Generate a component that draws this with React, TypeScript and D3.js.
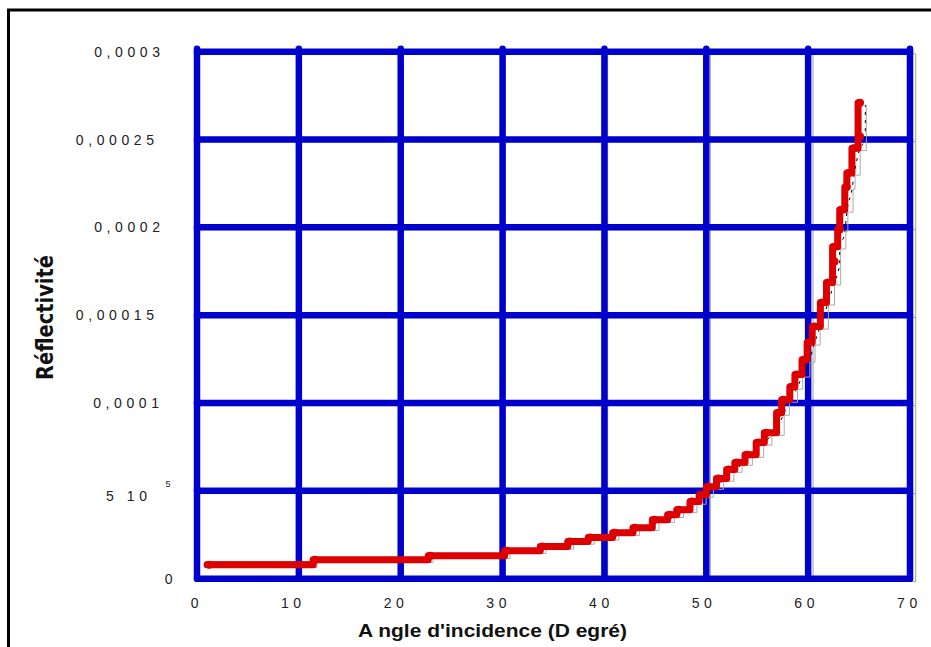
import React from "react";
import * as d3 from "d3";

// ---- data ----
const xTicks = [0, 10, 20, 30, 40, 50, 60, 70];
const yTicks = [0, 0.00005, 0.0001, 0.00015, 0.0002, 0.00025, 0.0003];
const yTickLabels = ["0", "5 10", "0,0001", "0,00015", "0,0002", "0,00025", "0,0003"];
const xTickLabels = ["0", "10", "20", "30", "40", "50", "60", "70"];

// step starts of the measured curve (angle in degrees, reflectivity)
const angles = [
  1.0, 11.4, 22.7, 30.2, 33.7, 36.4, 38.4, 40.8, 42.8, 44.7, 46.2, 47.1, 48.4,
  49.3, 50.0, 51.0, 52.0, 52.8, 53.8, 54.9, 55.7, 56.9, 57.4, 58.2, 58.7, 59.4,
  59.9, 60.4, 61.2, 61.8, 62.4, 62.4, 62.9, 63.1, 63.6, 63.8, 64.3, 64.9, 64.9,
];
const reflectivity = [
  8.0e-6, 10.8e-6, 13.1e-6, 15.9e-6, 18.4e-6, 21.2e-6, 23.5e-6, 26.2e-6, 29.0e-6,
  33.6e-6, 36.4e-6, 39.3e-6, 43.9e-6, 47.8e-6, 52.4e-6, 57.0e-6, 62.1e-6, 66.1e-6,
  70.6e-6, 77.5e-6, 83.1e-6, 94.5e-6, 101.9e-6, 109.3e-6, 116.2e-6, 124.7e-6,
  134.4e-6, 143.5e-6, 157.2e-6, 168.6e-6, 180.5e-6, 189.0e-6, 198.8e-6, 210.0e-6,
  223.0e-6, 231.0e-6, 245.0e-6, 251.7e-6, 271.0e-6,
];
const firstRunEnd = 11.4; // flat segment end for dotted texture

const yTitle = "Réflectivité";
const xTitle = "A ngle d'incidence (D egré)";

// ---- layout ----
const W = 931;
const H = 647;
const yLabelRight = [172.5, 147, 159, 154, 160, 154, 160];
const yLabelDy = [5, 10, 5, 5, 5, 5, 5];

export default function App() {
  const x = d3.scaleLinear().domain([0, 70]).range([197, 910]);
  const y = d3.scaleLinear().domain([0, 0.0003]).range([578.7, 51.7]);
  const xg = d3.scaleLinear().domain([0, 70]).range([197, 915.7]);
  const yg = d3.scaleLinear().domain([0, 0.0003]).range([581.5, 53.8]);

  const pts: [number, number][] = angles.map((a, i) => [a, reflectivity[i]]);

  const stepLine = d3
    .line<[number, number]>()
    .x((d) => x(d[0]))
    .y((d) => y(d[1]))
    .curve(d3.curveStepAfter);
  const greyStep = d3
    .line<[number, number]>()
    .x((d) => xg(d[0]) + 3)
    .y((d) => yg(d[1]))
    .curve(d3.curveStepAfter);
  const smooth = d3
    .line<[number, number]>()
    .x((d) => xg(d[0]) + 2)
    .y((d) => yg(d[1]))
    .curve(d3.curveMonotoneX);

  // dotted texture on the first flat run
  const dots = d3.range(angles[0], firstRunEnd, 0.45);

  const blue = "#0000cc";
  const red = "#dd0000";
  const font = "'Liberation Sans', Arial, sans-serif";

  return (
    <svg
      width={W}
      height={H}
      style={{ position: "absolute", left: 0, top: 0, background: "#fff" }}
    >
      <rect x={0} y={0} width={W} height={H} fill="#fff" />
      {/* outer frame */}
      <rect x={8.5} y={10} width={1200} height={1200} fill="none" stroke="#000" strokeWidth={3} />

      {/* thin grey grid */}
      <g stroke="#a0a0a0" strokeWidth={1}>
        {xTicks.map((t) => (
          <line key={"gx" + t} x1={xg(t)} x2={xg(t)} y1={yg(0.0003)} y2={yg(0)} />
        ))}
        {yTicks.map((t) => (
          <line key={"gy" + t} x1={xg(0)} x2={xg(70)} y1={yg(t)} y2={yg(t)} />
        ))}
      </g>

      {/* blue heavy grid */}
      <g stroke={blue} strokeWidth={6.5} strokeLinecap="round">
        {xTicks.map((t) => (
          <line key={"bx" + t} x1={x(t)} x2={x(t)} y1={y(0.0003) - 3} y2={y(0)} />
        ))}
        {yTicks.map((t) => (
          <line key={"by" + t} x1={x(0)} x2={x(70)} y1={y(t)} y2={y(t)} />
        ))}
      </g>

      {/* grey step shadow */}
      <path d={greyStep(pts) || ""} fill="none" stroke="#aaa" strokeWidth={1} />
      {/* black dashed theoretical curve */}
      <path
        d={smooth(pts) || ""}
        fill="none"
        stroke="#000"
        strokeWidth={1}
        strokeDasharray="3,5"
      />

      {/* red measured curve */}
      <path
        d={stepLine(pts) || ""}
        fill="none"
        stroke={red}
        strokeWidth={7}
        strokeLinejoin="round"
        strokeLinecap="round"
      />
      {pts.map((p, i) => (
        <circle key={"c" + i} cx={x(p[0]) + 2} cy={y(p[1])} r={4} fill={red} />
      ))}
      {dots.map((a, i) => (
        <circle key={"d" + i} cx={x(a)} cy={y(reflectivity[0])} r={3.4} fill={red} />
      ))}

      {/* y tick labels */}
      <g fontFamily={font} fontSize={14} fill="#222" letterSpacing={4.6}>
        {yTicks.map((t, i) => (
          <text
            key={"yl" + t}
            x={yLabelRight[i] + 4.6}
            y={y(t) + yLabelDy[i]}
            textAnchor="end"
          >
            {yTickLabels[i]}
          </text>
        ))}
        <text x={165.5} y={y(0.00005) - 4} fontSize={9} letterSpacing={0}>
          5
        </text>
      </g>

      {/* x tick labels */}
      <g fontFamily={font} fontSize={14} fill="#222" letterSpacing={4.6}>
        {xTicks.map((t, i) => (
          <text key={"xl" + t} x={xg(t) + 1.5 + 4.6} y={608} textAnchor="end">
            {xTickLabels[i]}
          </text>
        ))}
      </g>

      {/* axis titles */}
      <text
        x={492.5}
        y={637}
        textAnchor="middle"
        fontFamily={font}
        fontWeight="bold"
        fontSize={19}
        fill="#111"
        textLength={269}
        lengthAdjust="spacingAndGlyphs"
      >
        {xTitle}
      </text>
      <text
        transform="translate(53,317.5) rotate(-90)"
        textAnchor="middle"
        fontFamily="'DejaVu Sans Condensed', 'Liberation Sans Narrow', sans-serif"
        fontWeight="bold"
        fontSize={23}
        fill="#111"
        textLength={125}
        lengthAdjust="spacingAndGlyphs"
      >
        {yTitle}
      </text>
    </svg>
  );
}
